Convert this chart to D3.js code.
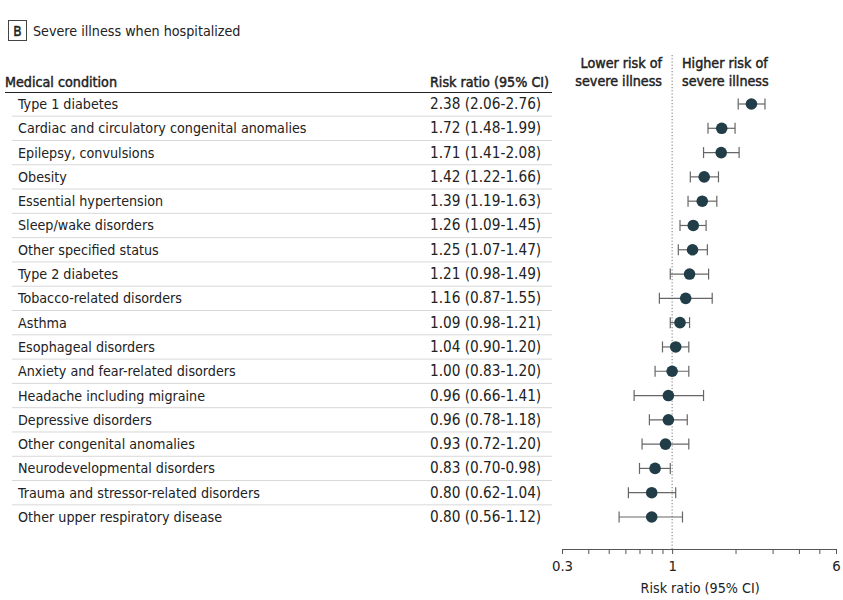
<!DOCTYPE html>
<html>
<head>
<meta charset="utf-8">
<script src="https://cdn.jsdelivr.net/npm/d3@7"></script>
<style>
  body { margin: 0; background: #fff; }
  svg text { font-family: "DejaVu Sans Condensed", "Liberation Sans Narrow", sans-serif; fill: #222; font-size: 14.2px; }
  .head { stroke: #222; stroke-width: 0.45px; }
</style>
</head>
<body>
<script>
// conditions, estimates and 95% CI
var conditions = [
  "Type 1 diabetes", "Cardiac and circulatory congenital anomalies", "Epilepsy, convulsions",
  "Obesity", "Essential hypertension", "Sleep/wake disorders", "Other specified status",
  "Type 2 diabetes", "Tobacco-related disorders", "Asthma", "Esophageal disorders",
  "Anxiety and fear-related disorders", "Headache including migraine", "Depressive disorders",
  "Other congenital anomalies", "Neurodevelopmental disorders",
  "Trauma and stressor-related disorders", "Other upper respiratory disease"
];
var riskRatio = [2.38, 1.72, 1.71, 1.42, 1.39, 1.26, 1.25, 1.21, 1.16, 1.09, 1.04, 1.00, 0.96, 0.96, 0.93, 0.83, 0.80, 0.80];
var ciLow = [2.06, 1.48, 1.41, 1.22, 1.19, 1.09, 1.07, 0.98, 0.87, 0.98, 0.90, 0.83, 0.66, 0.78, 0.72, 0.70, 0.62, 0.56];
var ciHigh = [2.76, 1.99, 2.08, 1.66, 1.63, 1.45, 1.47, 1.49, 1.55, 1.21, 1.20, 1.20, 1.41, 1.18, 1.20, 0.98, 1.04, 1.12];
var tickValues = [0.3, 0.4, 0.5, 0.6, 0.7, 0.8, 0.9, 1, 2, 3, 4, 5, 6];
var tickLabels = { 0.3: "0.3", 1: "1", 6: "6" };

var rows = conditions.map(function (c, i) {
  return { name: c, rr: riskRatio[i], lo: ciLow[i], hi: ciHigh[i] };
});

var svg = d3.select("body").append("svg")
  .attr("width", 843)
  .attr("height", 600);

// panel title
svg.append("rect").attr("x", 8.5).attr("y", 20.5).attr("width", 18).attr("height", 20)
  .attr("fill", "none").attr("stroke", "#444");
svg.append("text").attr("class", "head").attr("x", 17.5).attr("y", 35.5)
  .attr("text-anchor", "middle").style("font-size", "13.5px").text("B");
svg.append("text").attr("x", 33).attr("y", 36)
  .text("Severe illness when hospitalized");

var x = d3.scaleLog().domain([0.3, 6]).range([562, 836]);
var y = d3.scalePoint().domain(conditions).range([104, 517]);
var step = y.step();

// table headers
svg.append("text").attr("class", "head").attr("x", 5).attr("y", 87).text("Medical condition");
svg.append("text").attr("class", "head").attr("x", 430).attr("y", 87).text("Risk ratio (95% CI)");
svg.append("line").attr("x1", 5).attr("x2", 552).attr("y1", 92.5).attr("y2", 92.5)
  .attr("stroke", "#222").attr("stroke-width", 1.2);

// light row separators
svg.selectAll("line.sep")
  .data(conditions.slice(1))
  .enter()
  .append("line")
  .attr("class", "sep")
  .attr("x1", 12).attr("x2", 552)
  .attr("y1", (d) => y(d) - step / 2)
  .attr("y2", (d) => y(d) - step / 2)
  .attr("stroke", "#d8d8d8");

svg.selectAll("text.name")
  .data(rows)
  .enter()
  .append("text")
  .attr("class", "name")
  .attr("x", 18)
  .attr("y", (d) => y(d.name) + 5)
  .text((d) => d.name);

svg.selectAll("text.val")
  .data(rows)
  .enter()
  .append("text")
  .attr("class", "val")
  .attr("x", 430)
  .attr("y", (d) => y(d.name) + 5)
  .style("font-size", "15.2px")
  .text((d) => d.rr.toFixed(2) + " (" + d.lo.toFixed(2) + "-" + d.hi.toFixed(2) + ")");

// direction labels
var lower = svg.append("text").attr("class", "head").attr("text-anchor", "end");
lower.append("tspan").attr("x", 662).attr("y", 68).text("Lower risk of");
lower.append("tspan").attr("x", 662).attr("y", 86).text("severe illness");
var higher = svg.append("text").attr("class", "head");
higher.append("tspan").attr("x", 682).attr("y", 68).text("Higher risk of");
higher.append("tspan").attr("x", 682).attr("y", 86).text("severe illness");

// reference line at 1
svg.append("line")
  .attr("x1", x(1)).attr("x2", x(1))
  .attr("y1", 55).attr("y2", 549)
  .attr("stroke", "#777").attr("stroke-dasharray", "1.2,2");

// confidence intervals
var g = svg.append("g");
g.selectAll("line.ci")
  .data(rows).enter().append("line")
  .attr("class", "ci")
  .attr("x1", (d) => x(d.lo)).attr("x2", (d) => x(d.hi))
  .attr("y1", (d) => y(d.name)).attr("y2", (d) => y(d.name))
  .attr("stroke", "#666").attr("stroke-width", 1.2);
["lo", "hi"].forEach(function (k) {
  g.selectAll("line.cap-" + k)
    .data(rows).enter().append("line")
    .attr("class", "cap-" + k)
    .attr("x1", (d) => x(d[k])).attr("x2", (d) => x(d[k]))
    .attr("y1", (d) => y(d.name) - 5.5).attr("y2", (d) => y(d.name) + 5.5)
    .attr("stroke", "#666").attr("stroke-width", 1.2);
});
g.selectAll("circle")
  .data(rows).enter().append("circle")
  .attr("cx", (d) => x(d.rr))
  .attr("cy", (d) => y(d.name))
  .attr("r", 5.8)
  .attr("fill", "#213d47");

// bottom axis
var axis = svg.append("g")
  .attr("transform", "translate(0,549)")
  .call(d3.axisBottom(x).tickValues(tickValues).tickSize(5)
    .tickFormat((d) => tickLabels[d] || ""));
axis.select(".domain").attr("stroke", "#555");
axis.selectAll(".tick line").attr("stroke", "#555");
axis.selectAll(".tick text")
  .attr("y", 11)
  .style("font-size", "14.8px")
  .style("font-family", "'DejaVu Sans Condensed', 'Liberation Sans Narrow', sans-serif")
  .attr("fill", "#222");

svg.append("text").attr("x", x(1) + 28).attr("y", 593)
  .attr("text-anchor", "middle")
  .text("Risk ratio (95% CI)");
</script>
</body>
</html>
